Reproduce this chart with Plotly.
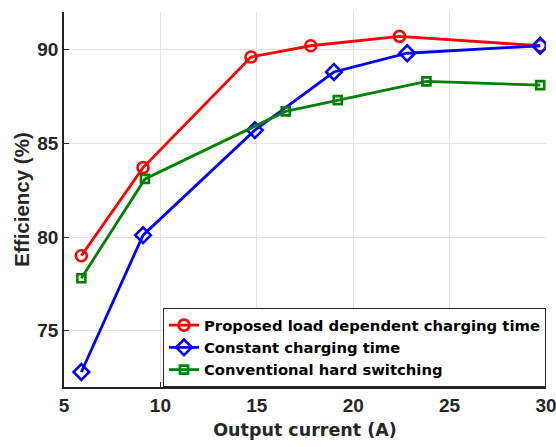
import plotly.graph_objects as go

x_red = [5.9, 9.1, 14.7, 17.8, 22.4, 29.7]
y_red = [79.0, 83.7, 89.6, 90.2, 90.7, 90.2]
x_blue = [5.9, 9.1, 14.9, 19.0, 22.8, 29.7]
y_blue = [72.8, 80.1, 85.7, 88.8, 89.8, 90.2]
x_green = [5.9, 9.2, 16.5, 19.2, 23.8, 29.7]
y_green = [77.8, 83.1, 86.7, 87.3, 88.3, 88.1]

names = ["Proposed load dependent charging time",
         "Constant charging time",
         "Conventional hard switching"]

x_ticks = [5, 10, 15, 20, 25, 30]
y_ticks = [75, 80, 85, 90]

FONT = "Liberation Sans, Arial"
WIDE = "DejaVu Sans"

fig = go.Figure()
series = [(x_red, y_red, "#ff0000", "circle-open", 11),
          (x_blue, y_blue, "#0000ff", "diamond-open", 12),
          (x_green, y_green, "#008000", "square-open", 8)]
for (xs, ys, c, sym, ms), nm in zip(series, names):
    fig.add_trace(go.Scatter(
        x=xs, y=ys, mode="lines+markers", name=nm,
        line=dict(color=c, width=2.8),
        marker=dict(symbol=sym, size=ms, color=c, line=dict(color=c, width=2.6)),
    ))

axis_common = dict(
    showline=True, linecolor="#262626", linewidth=1.5,
    showgrid=True, gridcolor="#e3e3e3", gridwidth=1,
    ticks="inside", ticklen=5, tickcolor="#262626",
    tickfont=dict(family=FONT, size=19, color="#262626", weight="bold"),
    zeroline=False, mirror=False, automargin=False,
    ticklabeloverflow="allow",
)

fig.update_layout(
    width=556, height=447,
    margin=dict(l=64, r=10, t=12, b=60),
    plot_bgcolor="white", paper_bgcolor="white",
    xaxis=dict(range=[5, 30], tickvals=x_ticks,
               title=dict(text="Output current (A)", standoff=9,
                          font=dict(family=WIDE, size=17.5, color="#262626", weight="bold")),
               **axis_common),
    yaxis=dict(range=[72, 92], tickvals=y_ticks,
               title=dict(text="Efficiency (%)", standoff=2,
                          font=dict(family=FONT, size=20.5, color="#262626", weight="bold")),
               **axis_common),
    legend=dict(x=1, y=0, xanchor="right", yanchor="bottom",
                bgcolor="white", bordercolor="#262626", borderwidth=1,
                font=dict(family=WIDE, size=14.8, color="black", weight="bold"),
                tracegroupgap=0, itemwidth=30),
    showlegend=True,
)

fig.write_html("out.html")
